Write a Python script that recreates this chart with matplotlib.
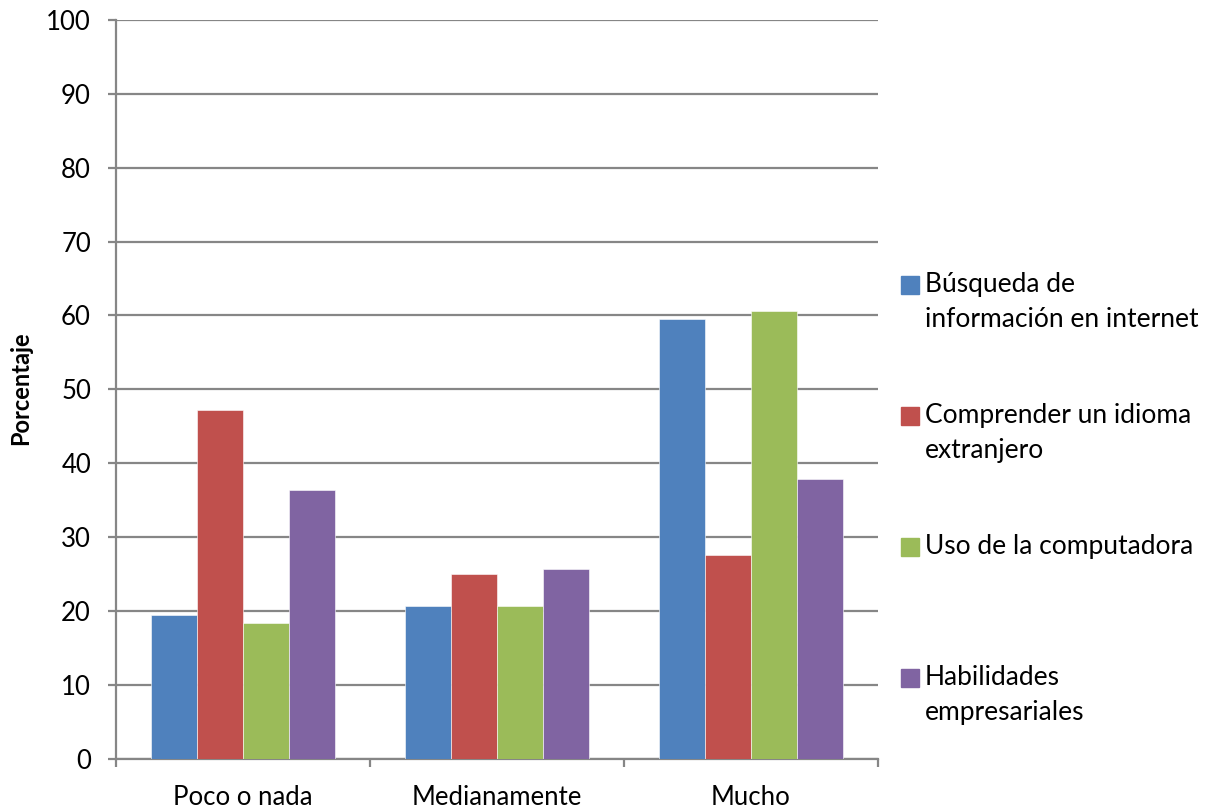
import matplotlib.pyplot as plt
import numpy as np
from matplotlib.patches import Rectangle

plt.rcParams['font.family'] = ['Lato', 'DejaVu Sans']

categories = ["Poco o nada", "Medianamente", "Mucho"]
series_names = [
    "Búsqueda de\ninformación en internet",
    "Comprender un idioma\nextranjero",
    "Uso de la computadora",
    "Habilidades\nempresariales",
]
busqueda = [19.4, 20.6, 59.5]
idioma = [47.2, 25.0, 27.6]
computadora = [18.3, 20.6, 60.6]
habilidades = [36.4, 25.6, 37.8]
colors = ["#4F81BD", "#C0504D", "#9BBB59", "#8064A2"]

values = [busqueda, idioma, computadora, habilidades]

fig = plt.figure(figsize=(12.07, 8.09), dpi=100)
ax = fig.add_axes([0.0961, 0.0624, 0.6313, 0.9129])

x = np.arange(len(categories))
bar_w = 0.727 / 4
for i, (vals, col) in enumerate(zip(values, colors)):
    ax.bar(x - 0.3635 + bar_w * (i + 0.5), vals, width=bar_w, color=col,
           edgecolor="white", linewidth=0.4, zorder=3)

ax.set_xlim(-0.5, len(categories) - 0.5)
ax.set_ylim(0, 100)
ax.set_yticks(range(0, 101, 10))
ax.grid(axis="y", color="#868686", linewidth=1.6, zorder=0)

for s in ["top", "right"]:
    ax.spines[s].set_visible(False)
for s in ["left", "bottom"]:
    ax.spines[s].set_color("#868686")
    ax.spines[s].set_linewidth(1.6)

ax.tick_params(axis="y", length=6, width=1.6, color="#868686", labelsize=18.5, pad=12)
ax.set_xticks(x)
ax.set_xticklabels(categories)
ax.tick_params(axis="x", which="major", length=0, labelsize=18.5, pad=19)
ax.set_xticks(np.arange(-0.5, len(categories), 1.0), minor=True)
ax.tick_params(axis="x", which="minor", length=6, width=1.6, color="#868686")

fig.text(0.017, 0.52, "Porcentaje", rotation=90, fontsize=17, fontweight="bold",
         ha="center", va="center")

# legend
legend_y = [285, 416, 547, 678]
for name, col, yc in zip(series_names, colors, legend_y):
    fy = 1 - yc / 809
    fig.patches.append(Rectangle((901 / 1207, fy - 9 / 809), 18 / 1207, 18 / 809,
                                 transform=fig.transFigure, color=col))
    fig.text(925 / 1207, fy + 13 / 809, name, fontsize=19, ha="left", va="top",
             linespacing=1.5)

fig.savefig("out.png", dpi=100)
